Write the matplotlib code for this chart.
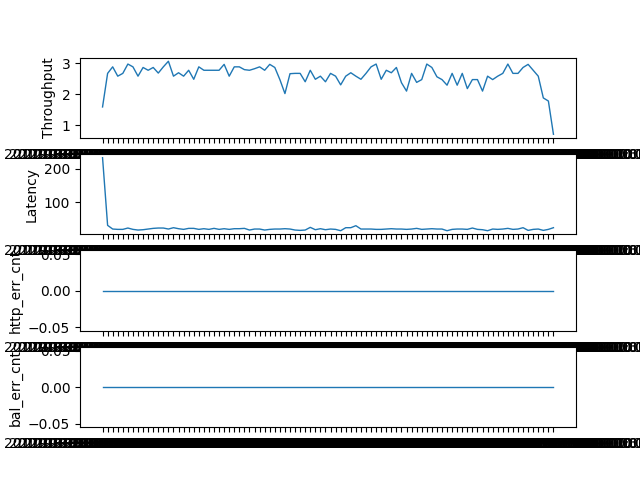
import numpy as np
import pandas as pd
import matplotlib
matplotlib.use("Agg")
import matplotlib.pyplot as plt

# timestamps used as categorical x labels
times = [str(t) for t in pd.date_range("2017-08-28 10:00:00", periods=90, freq="min", tz="UTC")]

throughput = [1.59, 2.67, 2.88, 2.58, 2.67, 2.97, 2.88, 2.58, 2.86, 2.77,
              2.86, 2.68, 2.88, 3.06, 2.58, 2.69, 2.58, 2.77, 2.48, 2.88,
              2.77, 2.77, 2.77, 2.77, 2.96, 2.58, 2.88, 2.88, 2.79, 2.77,
              2.82, 2.88, 2.77, 2.96, 2.86, 2.47, 2.02, 2.66, 2.67, 2.67,
              2.40, 2.77, 2.48, 2.58, 2.40, 2.67, 2.58, 2.30, 2.58, 2.69,
              2.58, 2.48, 2.67, 2.88, 2.97, 2.48, 2.77, 2.69, 2.86, 2.37,
              2.10, 2.67, 2.38, 2.47, 2.97, 2.86, 2.56, 2.47, 2.29, 2.67,
              2.29, 2.67, 2.18, 2.47, 2.47, 2.10, 2.58, 2.47, 2.58, 2.67,
              2.97, 2.67, 2.67, 2.86, 2.96, 2.77, 2.58, 1.88, 1.78, 0.71]

latency = [233, 31, 20, 19, 19, 23, 19, 17, 18, 20,
           22, 23, 23, 20, 24, 21, 19, 22, 22, 19,
           21, 19, 22, 19, 21, 19, 21, 21, 22, 17,
           20, 20, 17, 19, 20, 20, 21, 20, 17, 16,
           17, 25, 18, 21, 18, 20, 19, 15, 24, 24,
           30, 20, 20, 20, 19, 19, 20, 21, 20, 20,
           19, 20, 22, 19, 20, 21, 20, 20, 15, 19,
           20, 20, 19, 23, 19, 18, 15, 20, 19, 20,
           22, 19, 20, 24, 16, 19, 20, 16, 19, 24]

http_err_cnt = [0] * 90
bal_err_cnt = [0] * 90

fig, axes = plt.subplots(4, 1)

axes[0].plot(times, throughput, linewidth=1)
axes[0].set_ylabel("Throughput")

axes[1].plot(times, latency, linewidth=1)
axes[1].set_ylabel("Latency")

axes[2].plot(times, http_err_cnt, linewidth=1)
axes[2].set_ylabel("http_err_cnt")

axes[3].plot(times, bal_err_cnt, linewidth=1)
axes[3].set_ylabel("bal_err_cnt")

plt.savefig("out.png")
